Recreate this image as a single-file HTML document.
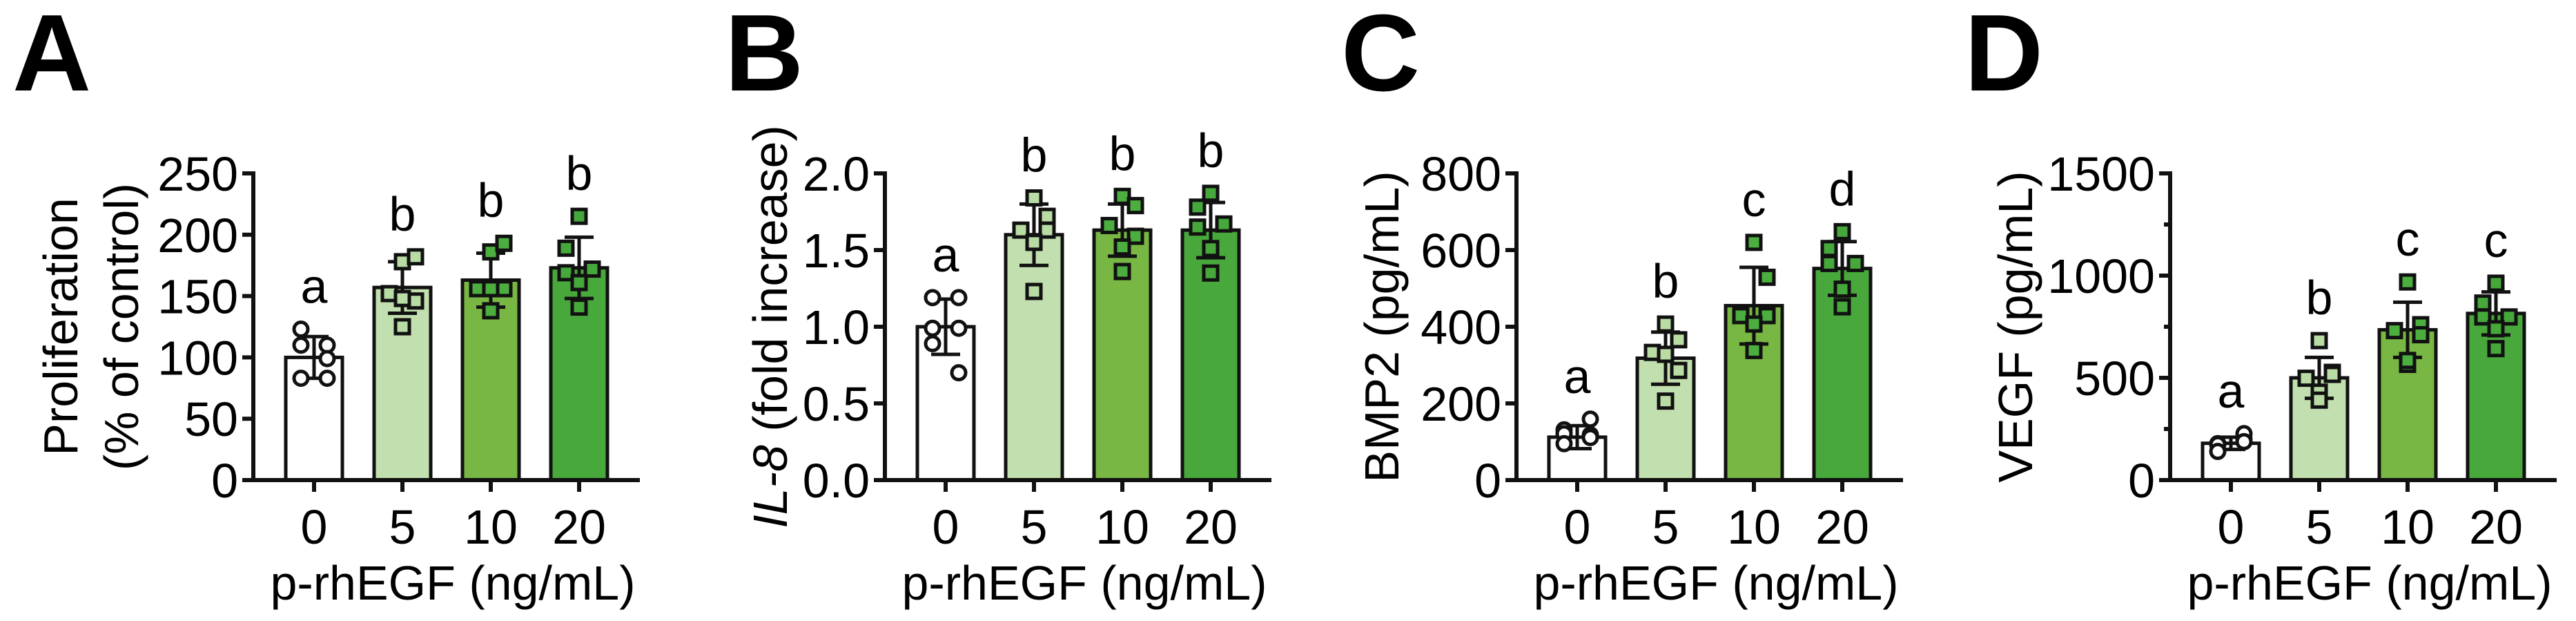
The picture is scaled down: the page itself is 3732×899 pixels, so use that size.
<!DOCTYPE html>
<html><head><meta charset="utf-8"><style>
html,body{margin:0;padding:0;background:#fff;}
svg{display:block;font-family:"Liberation Sans",Arial,sans-serif;}
</style></head><body>
<svg id="fig" width="3732" height="899" viewBox="0 0 3732 899" xmlns="http://www.w3.org/2000/svg"></svg>
<script>
// ---- data ----
const categories = ["0","5","10","20"];
const sigA = ["a","b","b","b"];
const sigB = ["a","b","b","b"];
const sigC = ["a","b","c","d"];
const sigD = ["a","b","c","c"];
const meanA = [100,157,163,173];
const sdA = [17,21,22,25];
const ptsA = [[123,110,110,99,83,83],[178,182,152,146,148,125],[186,193,156,156,156,138],[215,189,172,169,161,141]];
const meanB = [1.0,1.60,1.63,1.63];
const sdB = [0.18,0.20,0.17,0.18];
const ptsB = [[1.19,1.19,0.99,0.99,0.89,0.70],[1.84,1.72,1.63,1.63,1.55,1.23],[1.85,1.79,1.66,1.59,1.52,1.36],[1.87,1.78,1.67,1.65,1.51,1.35]];
const meanC = [112,318,455,552];
const sdC = [30,68,100,70];
const ptsC = [[131,159,121,118,95,111],[407,366,333,286,328,206],[620,529,429,429,407,338],[648,604,565,565,498,452]];
const meanD = [180,500,735,815];
const sdD = [30,100,135,105];
const ptsD = [[178,202,174,227,140,188],[682,527,498,517,430,391],[969,760,731,711,566,585],[963,866,798,798,740,643]];
const ticksA = [0,50,100,150,200,250];
const ticksB = [0,0.5,1.0,1.5,2.0];
const ticksC = [0,200,400,600,800];
const ticksD = [0,500,1000,1500];
const minorD = [250,750,1250];
</script>
<script>
const NS="http://www.w3.org/2000/svg";
const svg=document.getElementById('fig');
function mk(tag,attrs,parent){const e=document.createElementNS(NS,tag);for(const k in attrs)e.setAttribute(k,attrs[k]);(parent||svg).appendChild(e);return e;}
const fills=["#ffffff","#c2dfaf","#78b744","#48a83c"];
const ptFills=["#ffffff","#b9dba4","#4cae3f","#46a73b"];
const jitter=[[-1,1,-1,1,-1,1],[0,1,-1,1,0,0],[0,1,-1,1,0,0],[0,-1,1,-1,0,0]];
const Y0=695, YT=251;
function panel(o){
  const g=mk('g',{});
  
  
  const y=v=>Y0-(v/o.max)*(Y0-YT);
  const cx=i=>o.ax+88+i*128;
  const L=mk('text',{x:o.lx,y:131,'font-size':158,'font-weight':'bold'},g);L.textContent=o.letter;
  
  
  o.mean.forEach((m,i)=>{
    const r=mk('rect',{x:cx(i)-41,y:y(m),width:82,height:Y0-y(m),fill:fills[i],stroke:'#111',"stroke-width":5},g);
    
    
  });
  o.mean.forEach((m,i)=>{
    const e=mk('g',{stroke:'#111','stroke-width':5},g);
    
    
    const t=y(m+o.sd[i]),b=y(m-o.sd[i]);
    mk('line',{x1:cx(i),x2:cx(i),y1:t,y2:b},e);
    mk('line',{x1:cx(i)-21,x2:cx(i)+21,y1:t,y2:t},e);
    mk('line',{x1:cx(i)-21,x2:cx(i)+21,y1:b,y2:b},e);
  });
  o.pts.forEach((arr,i)=>{
    arr.forEach((v,k)=>{
      const px=cx(i)+jitter[i][k]*19, py=y(v);
      let p;
      if(i===0)p=mk('circle',{cx:px,cy:py,r:10,fill:'#fff',stroke:'#111','stroke-width':5},g);
      else p=mk('rect',{x:px-10,y:py-10,width:20,height:20,fill:ptFills[i],stroke:'#111','stroke-width':5},g);
      
      
    });
    const top=Math.max(o.mean[i]+o.sd[i],...arr);
    const s=mk('text',{x:cx(i),y:y(top)-38,'font-size':70,'text-anchor':'middle'},g);s.textContent=o.sig[i];
    
    
  });
  const end=cx(3)+88;
  const ax=mk('g',{stroke:'#111','stroke-width':6,fill:'none'},g);
  
  
  mk('line',{x1:o.ax,x2:o.ax,y1:YT-3,y2:Y0+3},ax);
  mk('line',{x1:o.ax-3,x2:end,y1:Y0,y2:Y0},ax);
  o.ticks.forEach(t=>{
    mk('line',{x1:o.ax-16,x2:o.ax,y1:y(t),y2:y(t)},ax);
    const tl=mk('text',{x:o.ax-22,y:y(t)+25,'font-size':70,'text-anchor':'end'},g);tl.textContent=o.fmt(t);
    
    
  });
  (o.minor||[]).forEach(t=>mk('line',{x1:o.ax-9,x2:o.ax,y1:y(t),y2:y(t)},ax));
  categories.forEach((c,i)=>{
    mk('line',{x1:cx(i),x2:cx(i),y1:Y0,y2:Y0+17},ax);
    const tl=mk('text',{x:cx(i),y:787,'font-size':70,'text-anchor':'middle'},g);tl.textContent=c;
    
    
  });
  const xt=mk('text',{x:(cx(0)+end)/2-35,y:868,'font-size':70,'text-anchor':'middle'},g);xt.textContent='p-rhEGF (ng/mL)';
  
  
  o.ylab(g);
}
function ytitle(g,x,html){
  const t=mk('text',{x:0,y:0,'font-size':70,'text-anchor':'middle','dominant-baseline':'central',transform:`translate(${x},473) rotate(-90)`},g);
  t.innerHTML=html;
  
  
}
panel({letter:'A',lx:18,ax:367,max:250,mean:meanA,sd:sdA,pts:ptsA,sig:sigA,ticks:ticksA,fmt:t=>String(t),
  ylab:g=>{ytitle(g,88,'Proliferation');ytitle(g,176,'(% of control)');}});
panel({letter:'B',lx:1050,ax:1282,max:2,mean:meanB,sd:sdB,pts:ptsB,sig:sigB,ticks:ticksB,fmt:t=>t.toFixed(1),
  ylab:g=>ytitle(g,1116,'<tspan font-style="italic">IL-8</tspan> (fold increase)')});
panel({letter:'C',lx:1943,ax:2197,max:800,mean:meanC,sd:sdC,pts:ptsC,sig:sigC,ticks:ticksC,fmt:t=>String(t),
  ylab:g=>ytitle(g,2002,'BMP2 (pg/mL)')});
panel({letter:'D',lx:2846,ax:3144,max:1500,mean:meanD,sd:sdD,pts:ptsD,sig:sigD,ticks:ticksD,minor:minorD,fmt:t=>String(t),
  ylab:g=>ytitle(g,2920,'VEGF (pg/mL)')});
</script>
</body></html>
